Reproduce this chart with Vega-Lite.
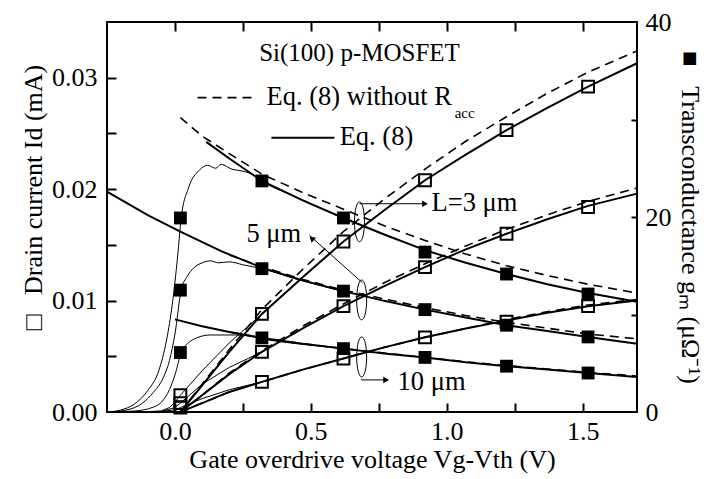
{
"$schema": "https://vega.github.io/schema/vega-lite/v6.json",
"width": 530, "height": 390,
"autosize": {"type": "none"},
"padding": {"left": 107, "top": 22, "right": 72, "bottom": 67},
"background": "white",
"config": {
  "view": {"stroke": "black", "strokeWidth": 2},
  "axis": {"domain": false, "grid": false, "labelFont": "Liberation Serif", "titleFont": "Liberation Serif", "labelFontSize": 26, "titleFontSize": 26, "titleFontWeight": "normal", "labelColor": "black", "titleColor": "black", "tickColor": "black", "tickWidth": 2, "labelFlush": false, "labelOverlap": false},
  "text": {"font": "Liberation Serif", "color": "black"}
},
"datasets": {
  "idfit": [
    {"L":"3","eq":"solid","x":0.02,"y":0},{"L":"3","eq":"solid","x":0.1,"y":0.0024},{"L":"3","eq":"solid","x":0.2,"y":0.0054},{"L":"3","eq":"solid","x":0.32,"y":0.0088},{"L":"3","eq":"solid","x":0.47,"y":0.0121},{"L":"3","eq":"solid","x":0.62,"y":0.0153},{"L":"3","eq":"solid","x":0.77,"y":0.0181},{"L":"3","eq":"solid","x":0.92,"y":0.0208},{"L":"3","eq":"solid","x":1.07,"y":0.0231},{"L":"3","eq":"solid","x":1.22,"y":0.0253},{"L":"3","eq":"solid","x":1.37,"y":0.0273},{"L":"3","eq":"solid","x":1.52,"y":0.0292},{"L":"3","eq":"solid","x":1.7,"y":0.0313},
    {"L":"3","eq":"dash","x":0.02,"y":0},{"L":"3","eq":"dash","x":0.1,"y":0.0025},{"L":"3","eq":"dash","x":0.2,"y":0.0056},{"L":"3","eq":"dash","x":0.32,"y":0.0092},{"L":"3","eq":"dash","x":0.47,"y":0.0128},{"L":"3","eq":"dash","x":0.62,"y":0.0162},{"L":"3","eq":"dash","x":0.77,"y":0.0191},{"L":"3","eq":"dash","x":0.92,"y":0.0218},{"L":"3","eq":"dash","x":1.07,"y":0.0243},{"L":"3","eq":"dash","x":1.22,"y":0.0265},{"L":"3","eq":"dash","x":1.37,"y":0.0286},{"L":"3","eq":"dash","x":1.52,"y":0.0305},{"L":"3","eq":"dash","x":1.7,"y":0.0324},
    {"L":"5","eq":"solid","x":0.02,"y":0},{"L":"5","eq":"solid","x":0.1,"y":0.0015},{"L":"5","eq":"solid","x":0.2,"y":0.0034},{"L":"5","eq":"solid","x":0.32,"y":0.0054},{"L":"5","eq":"solid","x":0.47,"y":0.0075},{"L":"5","eq":"solid","x":0.62,"y":0.0095},{"L":"5","eq":"solid","x":0.77,"y":0.0113},{"L":"5","eq":"solid","x":0.92,"y":0.0130},{"L":"5","eq":"solid","x":1.07,"y":0.0146},{"L":"5","eq":"solid","x":1.22,"y":0.0160},{"L":"5","eq":"solid","x":1.37,"y":0.0173},{"L":"5","eq":"solid","x":1.52,"y":0.0185},{"L":"5","eq":"solid","x":1.7,"y":0.0196},
    {"L":"5","eq":"dash","x":0.02,"y":0},{"L":"5","eq":"dash","x":0.1,"y":0.0015},{"L":"5","eq":"dash","x":0.2,"y":0.0035},{"L":"5","eq":"dash","x":0.32,"y":0.0055},{"L":"5","eq":"dash","x":0.47,"y":0.0077},{"L":"5","eq":"dash","x":0.62,"y":0.0097},{"L":"5","eq":"dash","x":0.77,"y":0.0116},{"L":"5","eq":"dash","x":0.92,"y":0.0133},{"L":"5","eq":"dash","x":1.07,"y":0.0149},{"L":"5","eq":"dash","x":1.22,"y":0.0164},{"L":"5","eq":"dash","x":1.37,"y":0.0177},{"L":"5","eq":"dash","x":1.52,"y":0.0189},{"L":"5","eq":"dash","x":1.7,"y":0.0201},
    {"L":"10","eq":"solid","x":0.02,"y":0},{"L":"10","eq":"solid","x":0.1,"y":0.0008},{"L":"10","eq":"solid","x":0.2,"y":0.0018},{"L":"10","eq":"solid","x":0.32,"y":0.0027},{"L":"10","eq":"solid","x":0.47,"y":0.0038},{"L":"10","eq":"solid","x":0.62,"y":0.0048},{"L":"10","eq":"solid","x":0.77,"y":0.0058},{"L":"10","eq":"solid","x":0.92,"y":0.0067},{"L":"10","eq":"solid","x":1.07,"y":0.0075},{"L":"10","eq":"solid","x":1.22,"y":0.0082},{"L":"10","eq":"solid","x":1.37,"y":0.0089},{"L":"10","eq":"solid","x":1.52,"y":0.0095},{"L":"10","eq":"solid","x":1.7,"y":0.0100},
    {"L":"10","eq":"dash","x":0.02,"y":0},{"L":"10","eq":"dash","x":0.1,"y":0.0008},{"L":"10","eq":"dash","x":0.2,"y":0.0018},{"L":"10","eq":"dash","x":0.32,"y":0.0027},{"L":"10","eq":"dash","x":0.47,"y":0.0038},{"L":"10","eq":"dash","x":0.62,"y":0.0048},{"L":"10","eq":"dash","x":0.77,"y":0.0058},{"L":"10","eq":"dash","x":0.92,"y":0.0067},{"L":"10","eq":"dash","x":1.07,"y":0.0075},{"L":"10","eq":"dash","x":1.22,"y":0.0083},{"L":"10","eq":"dash","x":1.37,"y":0.0090},{"L":"10","eq":"dash","x":1.52,"y":0.0096},{"L":"10","eq":"dash","x":1.7,"y":0.0101}
  ],
  "gmfit": [
    {"L":"3","eq":"solid","x":0.115,"y":27.7},{"L":"3","eq":"solid","x":0.2,"y":26.0},{"L":"3","eq":"solid","x":0.32,"y":23.7},{"L":"3","eq":"solid","x":0.47,"y":21.7},{"L":"3","eq":"solid","x":0.62,"y":19.9},{"L":"3","eq":"solid","x":0.77,"y":18.2},{"L":"3","eq":"solid","x":0.92,"y":16.6},{"L":"3","eq":"solid","x":1.07,"y":15.3},{"L":"3","eq":"solid","x":1.22,"y":14.15},{"L":"3","eq":"solid","x":1.37,"y":13.1},{"L":"3","eq":"solid","x":1.52,"y":12.2},{"L":"3","eq":"solid","x":1.7,"y":11.3},
    {"L":"3","eq":"dash","x":0.02,"y":30.2},{"L":"3","eq":"dash","x":0.1,"y":28.3},{"L":"3","eq":"dash","x":0.2,"y":26.5},{"L":"3","eq":"dash","x":0.32,"y":24.4},{"L":"3","eq":"dash","x":0.47,"y":22.5},{"L":"3","eq":"dash","x":0.62,"y":20.8},{"L":"3","eq":"dash","x":0.77,"y":19.1},{"L":"3","eq":"dash","x":0.92,"y":17.6},{"L":"3","eq":"dash","x":1.07,"y":16.2},{"L":"3","eq":"dash","x":1.22,"y":15.0},{"L":"3","eq":"dash","x":1.37,"y":14.0},{"L":"3","eq":"dash","x":1.52,"y":13.1},{"L":"3","eq":"dash","x":1.7,"y":12.2},
    {"L":"5","eq":"solid","x":-0.25,"y":22.6},{"L":"5","eq":"solid","x":-0.1,"y":20.2},{"L":"5","eq":"solid","x":0.02,"y":18.5},{"L":"5","eq":"solid","x":0.17,"y":16.5},{"L":"5","eq":"solid","x":0.32,"y":14.8},{"L":"5","eq":"solid","x":0.47,"y":13.5},{"L":"5","eq":"solid","x":0.62,"y":12.4},{"L":"5","eq":"solid","x":0.77,"y":11.4},{"L":"5","eq":"solid","x":0.92,"y":10.5},{"L":"5","eq":"solid","x":1.07,"y":9.7},{"L":"5","eq":"solid","x":1.22,"y":8.9},{"L":"5","eq":"solid","x":1.37,"y":8.3},{"L":"5","eq":"solid","x":1.52,"y":7.7},{"L":"5","eq":"solid","x":1.7,"y":7.0},
    {"L":"5","eq":"dash","x":0.2,"y":16.1},{"L":"5","eq":"dash","x":0.32,"y":14.9},{"L":"5","eq":"dash","x":0.47,"y":13.6},{"L":"5","eq":"dash","x":0.62,"y":12.5},{"L":"5","eq":"dash","x":0.77,"y":11.6},{"L":"5","eq":"dash","x":0.92,"y":10.7},{"L":"5","eq":"dash","x":1.07,"y":9.9},{"L":"5","eq":"dash","x":1.22,"y":9.2},{"L":"5","eq":"dash","x":1.37,"y":8.6},{"L":"5","eq":"dash","x":1.52,"y":8.0},{"L":"5","eq":"dash","x":1.7,"y":7.5},
    {"L":"10","eq":"solid","x":0.0,"y":9.5},{"L":"10","eq":"solid","x":0.1,"y":8.8},{"L":"10","eq":"solid","x":0.2,"y":8.2},{"L":"10","eq":"solid","x":0.32,"y":7.6},{"L":"10","eq":"solid","x":0.47,"y":7.0},{"L":"10","eq":"solid","x":0.62,"y":6.5},{"L":"10","eq":"solid","x":0.77,"y":6.0},{"L":"10","eq":"solid","x":0.92,"y":5.6},{"L":"10","eq":"solid","x":1.07,"y":5.1},{"L":"10","eq":"solid","x":1.22,"y":4.7},{"L":"10","eq":"solid","x":1.37,"y":4.35},{"L":"10","eq":"solid","x":1.52,"y":4.0},{"L":"10","eq":"solid","x":1.7,"y":3.6},
    {"L":"10","eq":"dash","x":0.2,"y":8.2},{"L":"10","eq":"dash","x":0.32,"y":7.6},{"L":"10","eq":"dash","x":0.47,"y":7.0},{"L":"10","eq":"dash","x":0.62,"y":6.5},{"L":"10","eq":"dash","x":0.77,"y":6.05},{"L":"10","eq":"dash","x":0.92,"y":5.6},{"L":"10","eq":"dash","x":1.07,"y":5.15},{"L":"10","eq":"dash","x":1.22,"y":4.75},{"L":"10","eq":"dash","x":1.37,"y":4.4},{"L":"10","eq":"dash","x":1.52,"y":4.05},{"L":"10","eq":"dash","x":1.7,"y":3.7}
  ],
  "idmeas": [
    {"L":"3","x":-0.25,"y":0},{"L":"3","x":-0.1,"y":0.00003},{"L":"3","x":-0.05,"y":0.0001},{"L":"3","x":-0.02,"y":0.0004},{"L":"3","x":0.0,"y":0.0009},{"L":"3","x":0.02,"y":0.0015},{"L":"3","x":0.1,"y":0.0037},{"L":"3","x":0.2,"y":0.0062},{"L":"3","x":0.32,"y":0.0088},
    {"L":"5","x":-0.25,"y":0},{"L":"5","x":-0.1,"y":0.00002},{"L":"5","x":-0.05,"y":0.00006},{"L":"5","x":0.0,"y":0.0004},{"L":"5","x":0.02,"y":0.0008},{"L":"5","x":0.1,"y":0.0025},{"L":"5","x":0.2,"y":0.0040},{"L":"5","x":0.32,"y":0.0054},
    {"L":"10","x":-0.2,"y":0},{"L":"10","x":-0.05,"y":0.00004},{"L":"10","x":0.0,"y":0.0002},{"L":"10","x":0.02,"y":0.0004},{"L":"10","x":0.1,"y":0.0012},{"L":"10","x":0.2,"y":0.0020},{"L":"10","x":0.32,"y":0.0027}
  ],
  "gmmeas": [
    {"L":"3","x":-0.25,"y":0},{"L":"3","x":-0.2,"y":0.2},{"L":"3","x":-0.15,"y":0.8},{"L":"3","x":-0.1,"y":2.2},{"L":"3","x":-0.06,"y":4.2},{"L":"3","x":-0.03,"y":7.5},{"L":"3","x":-0.01,"y":11},{"L":"3","x":0.01,"y":16},{"L":"3","x":0.023,"y":19.9},{"L":"3","x":0.05,"y":23.0},{"L":"3","x":0.09,"y":24.8},{"L":"3","x":0.12,"y":25.3},{"L":"3","x":0.15,"y":25.0},{"L":"3","x":0.17,"y":25.4},{"L":"3","x":0.21,"y":24.9},{"L":"3","x":0.25,"y":24.7},{"L":"3","x":0.29,"y":24.3},{"L":"3","x":0.32,"y":23.7},{"L":"3","x":0.45,"y":22.0},{"L":"3","x":0.6,"y":20.1},
    {"L":"5","x":-0.25,"y":0},{"L":"5","x":-0.18,"y":0.2},{"L":"5","x":-0.12,"y":0.9},{"L":"5","x":-0.08,"y":2.0},{"L":"5","x":-0.045,"y":3.4},{"L":"5","x":-0.02,"y":5.3},{"L":"5","x":0.0,"y":8.0},{"L":"5","x":0.023,"y":12.5},{"L":"5","x":0.045,"y":13.9},{"L":"5","x":0.07,"y":14.8},{"L":"5","x":0.1,"y":15.3},{"L":"5","x":0.13,"y":15.5},{"L":"5","x":0.16,"y":15.3},{"L":"5","x":0.2,"y":15.4},{"L":"5","x":0.25,"y":15.1},{"L":"5","x":0.32,"y":14.7},{"L":"5","x":0.45,"y":13.6},{"L":"5","x":0.6,"y":12.5},
    {"L":"10","x":-0.25,"y":0},{"L":"10","x":-0.15,"y":0.1},{"L":"10","x":-0.08,"y":0.5},{"L":"10","x":-0.05,"y":1.0},{"L":"10","x":-0.02,"y":2.3},{"L":"10","x":0.0,"y":3.8},{"L":"10","x":0.023,"y":6.1},{"L":"10","x":0.05,"y":7.1},{"L":"10","x":0.08,"y":7.6},{"L":"10","x":0.13,"y":7.9},{"L":"10","x":0.18,"y":7.9},{"L":"10","x":0.22,"y":7.9},{"L":"10","x":0.27,"y":7.8},{"L":"10","x":0.32,"y":7.5},{"L":"10","x":0.45,"y":7.0},{"L":"10","x":0.6,"y":6.6}
  ],
  "idpts": [
    {"L":"3","x":0.02,"y":0.0015},{"L":"3","x":0.32,"y":0.0088},{"L":"3","x":0.62,"y":0.0153},{"L":"3","x":0.92,"y":0.0208},{"L":"3","x":1.22,"y":0.0253},{"L":"3","x":1.52,"y":0.0292},
    {"L":"5","x":0.02,"y":0.0008},{"L":"5","x":0.32,"y":0.0054},{"L":"5","x":0.62,"y":0.0095},{"L":"5","x":0.92,"y":0.0130},{"L":"5","x":1.22,"y":0.0160},{"L":"5","x":1.52,"y":0.0184},
    {"L":"10","x":0.02,"y":0.0004},{"L":"10","x":0.32,"y":0.0027},{"L":"10","x":0.62,"y":0.0048},{"L":"10","x":0.92,"y":0.0067},{"L":"10","x":1.22,"y":0.0081},{"L":"10","x":1.52,"y":0.0095}
  ],
  "gmpts": [
    {"L":"3","x":0.02,"y":19.9},{"L":"3","x":0.32,"y":23.7},{"L":"3","x":0.62,"y":19.9},{"L":"3","x":0.92,"y":16.4},{"L":"3","x":1.22,"y":14.15},{"L":"3","x":1.52,"y":12.1},
    {"L":"5","x":0.02,"y":12.5},{"L":"5","x":0.32,"y":14.7},{"L":"5","x":0.62,"y":12.4},{"L":"5","x":0.92,"y":10.5},{"L":"5","x":1.22,"y":8.9},{"L":"5","x":1.52,"y":7.7},
    {"L":"10","x":0.02,"y":6.1},{"L":"10","x":0.32,"y":7.6},{"L":"10","x":0.62,"y":6.5},{"L":"10","x":0.92,"y":5.6},{"L":"10","x":1.22,"y":4.7},{"L":"10","x":1.52,"y":4.0}
  ],
  "keylines": [
    {"k":"dash","x":0.083,"y":0.02821},{"k":"dash","x":0.304,"y":0.02821},
    {"k":"solid","x":0.355,"y":0.02462},{"k":"solid","x":0.587,"y":0.02462}
  ],
  "arrows": [
    {"id":"a3","o":1,"x":0.679,"y":0.01869},{"id":"a3","o":2,"x":0.925,"y":0.01869},
    {"id":"a5","o":1,"x":0.690,"y":0.01159},{"id":"a5","o":2,"x":0.495,"y":0.01585},
    {"id":"a10","o":1,"x":0.687,"y":0.00297},{"id":"a10","o":2,"x":0.687,"y":0.00288},{"id":"a10","o":3,"x":0.78,"y":0.00288}
  ],
  "heads": [
    {"id":"a3","x":0.92,"y":0.01869},{"id":"a10","x":0.777,"y":0.00288}
  ],
  "head5": [
    {"id":"a5","x":0.503,"y":0.01559}
  ],
  "ellipses": [
    {"L":"3","x":0.679,"y":0.01707},{"L":"5","x":0.687,"y":0.01006},{"L":"10","x":0.687,"y":0.00494}
  ],
  "labels": [
    {"text":"Eq. (8) without R","x":0.337,"y":0.02758},
    {"text":"Eq. (8)","x":0.606,"y":0.02399},
    {"text":"L=3 μm","x":0.944,"y":0.0180},
    {"text":"5 μm","x":0.263,"y":0.0153},
    {"text":"10 μm","x":0.819,"y":0.00198}
  ],
  "title": [
    {"text":"Si(100) p-MOSFET","x":0.679,"y":0.03147}
  ],
  "sub": [
    {"text":"acc","x":1.029,"y":0.02642}
  ]
},
"layer": [
  {
    "layer": [
      {
        "data": {"name": "idfit"},
        "transform": [{"filter": "datum.eq == 'solid'"}],
        "mark": {"type": "line", "color": "black", "strokeWidth": 2},
        "encoding": {
          "x": {"field": "x", "type": "quantitative", "scale": {"domain": [-0.25, 1.7], "nice": false, "zero": false},
                "axis": {"orient": "bottom", "values": [0, 0.5, 1, 1.5], "format": ".1f", "ticks": false, "labelPadding": 6, "title": "Gate overdrive voltage Vg-Vth (V)", "titlePadding": 2}},
          "y": {"field": "y", "type": "quantitative", "scale": {"domain": [0, 0.035], "nice": false, "zero": false},
                "axis": {"orient": "left", "values": [0, 0.01, 0.02, 0.03], "format": ".2f", "ticks": false, "labelPadding": 10, "title": "□\u00a0\u00a0\u00a0Drain current Id (mA)", "titleX": -66, "titleY": 175, "titleBaseline": "alphabetic", "titleAlign": "center", "titleAngle": -90}},
          "detail": {"field": "L"}
        }
      },
      {
        "data": {"name": "idfit"},
        "transform": [{"filter": "datum.eq == 'dash'"}],
        "mark": {"type": "line", "color": "black", "strokeWidth": 1.6, "strokeDash": [9, 6]},
        "encoding": {
          "x": {"field": "x", "type": "quantitative", "scale": {"domain": [-0.25, 1.7], "nice": false, "zero": false},
                "axis": {"orient": "bottom", "values": [0, 0.25, 0.5, 0.75, 1, 1.25, 1.5], "labels": false, "tickSize": -9, "title": null}},
          "y": {"field": "y", "type": "quantitative", "scale": {"domain": [0, 0.035], "nice": false, "zero": false},
                "axis": {"orient": "left", "values": [0.005, 0.01, 0.015, 0.02, 0.025, 0.03], "labels": false, "tickSize": -9, "title": null}},
          "detail": {"field": "L"}
        }
      },
      {
        "data": {"name": "idmeas"},
        "mark": {"type": "line", "color": "black", "strokeWidth": 1},
        "encoding": {
          "x": {"field": "x", "type": "quantitative", "scale": {"domain": [-0.25, 1.7], "nice": false, "zero": false},
                "axis": {"orient": "top", "values": [0, 0.25, 0.5, 0.75, 1, 1.25, 1.5], "labels": false, "tickSize": -9, "title": null}},
          "y": {"field": "y", "type": "quantitative", "scale": {"domain": [0, 0.035], "nice": false, "zero": false}, "axis": null},
          "detail": {"field": "L"}
        }
      },
      {
        "data": {"name": "idpts"},
        "mark": {"type": "point", "shape": "square", "filled": false, "color": "black", "strokeWidth": 2, "size": 140, "opacity": 1},
        "encoding": {
          "x": {"field": "x", "type": "quantitative", "scale": {"domain": [-0.25, 1.7], "nice": false, "zero": false}, "axis": null},
          "y": {"field": "y", "type": "quantitative", "scale": {"domain": [0, 0.035], "nice": false, "zero": false}, "axis": null}
        }
      },
      {
        "data": {"name": "keylines"},
        "transform": [{"filter": "datum.k == 'dash'"}],
        "mark": {"type": "line", "color": "black", "strokeWidth": 1.6, "strokeDash": [9, 6]},
        "encoding": {
          "x": {"field": "x", "type": "quantitative", "axis": null},
          "y": {"field": "y", "type": "quantitative", "axis": null}
        }
      },
      {
        "data": {"name": "keylines"},
        "transform": [{"filter": "datum.k == 'solid'"}],
        "mark": {"type": "line", "color": "black", "strokeWidth": 2},
        "encoding": {
          "x": {"field": "x", "type": "quantitative", "axis": null},
          "y": {"field": "y", "type": "quantitative", "axis": null}
        }
      },
      {
        "data": {"name": "arrows"},
        "mark": {"type": "line", "color": "black", "strokeWidth": 1},
        "encoding": {
          "x": {"field": "x", "type": "quantitative", "axis": null},
          "y": {"field": "y", "type": "quantitative", "axis": null},
          "detail": {"field": "id"},
          "order": {"field": "o"}
        }
      },
      {
        "data": {"name": "heads"},
        "mark": {"type": "point", "shape": "triangle-right", "filled": true, "color": "black", "size": 45, "opacity": 1},
        "encoding": {
          "x": {"field": "x", "type": "quantitative", "axis": null},
          "y": {"field": "y", "type": "quantitative", "axis": null}
        }
      },
      {
        "data": {"name": "head5"},
        "mark": {"type": "point", "shape": "triangle-right", "filled": true, "color": "black", "size": 45, "opacity": 1, "angle": 221},
        "encoding": {
          "x": {"field": "x", "type": "quantitative", "axis": null},
          "y": {"field": "y", "type": "quantitative", "axis": null}
        }
      },
      {
        "data": {"name": "ellipses"},
        "mark": {"type": "point", "shape": "M0,-1A0.25,1,0,1,1,0,1A0.25,1,0,1,1,0,-1Z", "filled": false, "color": "black", "strokeWidth": 1, "size": 1600, "opacity": 1},
        "encoding": {
          "x": {"field": "x", "type": "quantitative", "axis": null},
          "y": {"field": "y", "type": "quantitative", "axis": null}
        }
      },
      {
        "data": {"name": "labels"},
        "mark": {"type": "text", "align": "left", "baseline": "alphabetic", "fontSize": 26.5, "font": "Liberation Serif", "color": "black"},
        "encoding": {
          "x": {"field": "x", "type": "quantitative", "axis": null},
          "y": {"field": "y", "type": "quantitative", "axis": null},
          "text": {"field": "text"}
        }
      },
      {
        "data": {"name": "title"},
        "mark": {"type": "text", "align": "center", "baseline": "alphabetic", "fontSize": 25, "font": "Liberation Serif", "color": "black"},
        "encoding": {
          "x": {"field": "x", "type": "quantitative", "axis": null},
          "y": {"field": "y", "type": "quantitative", "axis": null},
          "text": {"field": "text"}
        }
      },
      {
        "data": {"name": "sub"},
        "mark": {"type": "text", "align": "left", "baseline": "alphabetic", "fontSize": 15, "font": "Liberation Serif", "color": "black"},
        "encoding": {
          "x": {"field": "x", "type": "quantitative", "axis": null},
          "y": {"field": "y", "type": "quantitative", "axis": null},
          "text": {"field": "text"}
        }
      }
    ],
    "resolve": {"axis": {"x": "independent", "y": "independent"}}
  },
  {
    "layer": [
      {
        "data": {"name": "gmfit"},
        "transform": [{"filter": "datum.eq == 'solid'"}],
        "mark": {"type": "line", "color": "black", "strokeWidth": 2},
        "encoding": {
          "x": {"field": "x", "type": "quantitative", "scale": {"domain": [-0.25, 1.7], "nice": false, "zero": false}, "axis": null},
          "y": {"field": "y", "type": "quantitative", "scale": {"domain": [0, 40], "nice": false, "zero": false},
                "axis": {"orient": "right", "values": [0, 20, 40], "ticks": false, "labelPadding": 8, "title": "■\u00a0\u00a0\u00a0Transconductance gₘ (μΩ⁻¹)", "titlePadding": 5}},
          "detail": {"field": "L"}
        }
      },
      {
        "data": {"name": "gmfit"},
        "transform": [{"filter": "datum.eq == 'dash'"}],
        "mark": {"type": "line", "color": "black", "strokeWidth": 1.6, "strokeDash": [9, 6]},
        "encoding": {
          "x": {"field": "x", "type": "quantitative", "scale": {"domain": [-0.25, 1.7], "nice": false, "zero": false}, "axis": null},
          "y": {"field": "y", "type": "quantitative", "scale": {"domain": [0, 40], "nice": false, "zero": false},
                "axis": {"orient": "right", "values": [10, 20, 30], "labels": false, "tickSize": -6, "title": null}},
          "detail": {"field": "L"}
        }
      },
      {
        "data": {"name": "gmmeas"},
        "mark": {"type": "line", "color": "black", "strokeWidth": 1, "interpolate": "monotone"},
        "encoding": {
          "x": {"field": "x", "type": "quantitative", "axis": null},
          "y": {"field": "y", "type": "quantitative", "axis": null},
          "detail": {"field": "L"}
        }
      },
      {
        "data": {"name": "gmpts"},
        "mark": {"type": "point", "shape": "square", "filled": true, "color": "black", "size": 165, "opacity": 1},
        "encoding": {
          "x": {"field": "x", "type": "quantitative", "axis": null},
          "y": {"field": "y", "type": "quantitative", "axis": null}
        }
      }
    ],
    "resolve": {"axis": {"x": "independent", "y": "independent"}}
  }
],
"resolve": {"scale": {"y": "independent"}, "axis": {"x": "independent", "y": "independent"}}
}
